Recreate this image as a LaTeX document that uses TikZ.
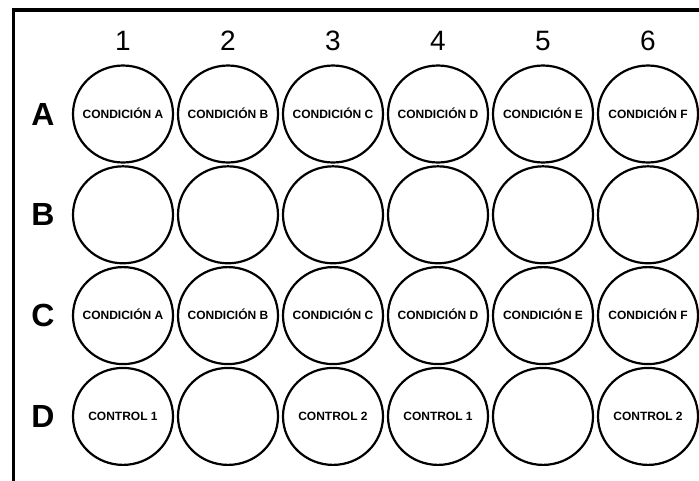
\documentclass[tikz,border=0pt]{standalone}
\usepackage{fontspec}
\setmainfont{Liberation Sans}
\usetikzlibrary{shapes.geometric}
\newcommand*{\wellw}{100}
\newcommand*{\wellh}{97}

\begin{document}
\begin{tikzpicture}[
   x=1pt, y=-1pt,
   well/.style={ellipse, draw=black, line width=2.2, inner sep=0,
                minimum width=\wellw, minimum height=\wellh},
   welltext/.style={inner sep=0, text height=8.6pt, text depth=0pt,
                    font=\fontsize{12}{12}\selectfont\bfseries},
   collabel/.style={font=\fontsize{28}{30}\selectfont},
   rowlabel/.style={font=\fontsize{32}{34}\selectfont\bfseries}
  ]

  % Well spacing
  \pgfmathsetmacro{\dx}{105}
  \pgfmathsetmacro{\dy}{100.8}

  \useasboundingbox (0, 0) rectangle (699, 480);

  % plate frame
  \draw[line width=3.2] (13.5, 484) -- (13.5, 10) -- (703, 10);

  \foreach \c in {1,...,6} {
    \node[collabel] (col\c) at ({123 + (\c - 1) * \dx}, 41) {\c};
  }
  \foreach \r [count=\i from 0] in {A,B,C,D} {
    \node[rowlabel] (row\r) at (43, {114 + \i * \dy}) {\r};
  }

  \foreach \c/\t in {1/A, 2/B, 3/C, 4/D, 5/E, 6/F} {
    \node[well, label={[welltext]center:CONDICIÓN \t}] (wA\c)
      at ({123 + (\c - 1) * \dx}, 114) {};
    \node[well] (wB\c) at ({123 + (\c - 1) * \dx}, {114 + \dy}) {};
    \node[well, label={[welltext]center:CONDICIÓN \t}] (wC\c)
      at ({123 + (\c - 1) * \dx}, {114 + 2 * \dy}) {};
  }
  \foreach \c/\t in {1/CONTROL 1, 2/, 3/CONTROL 2, 4/CONTROL 1, 5/, 6/CONTROL 2} {
    \node[well, label={[welltext]center:\t}] (wD\c)
      at ({123 + (\c - 1) * \dx}, {114 + 3 * \dy}) {};
  }

\end{tikzpicture}
\end{document}
